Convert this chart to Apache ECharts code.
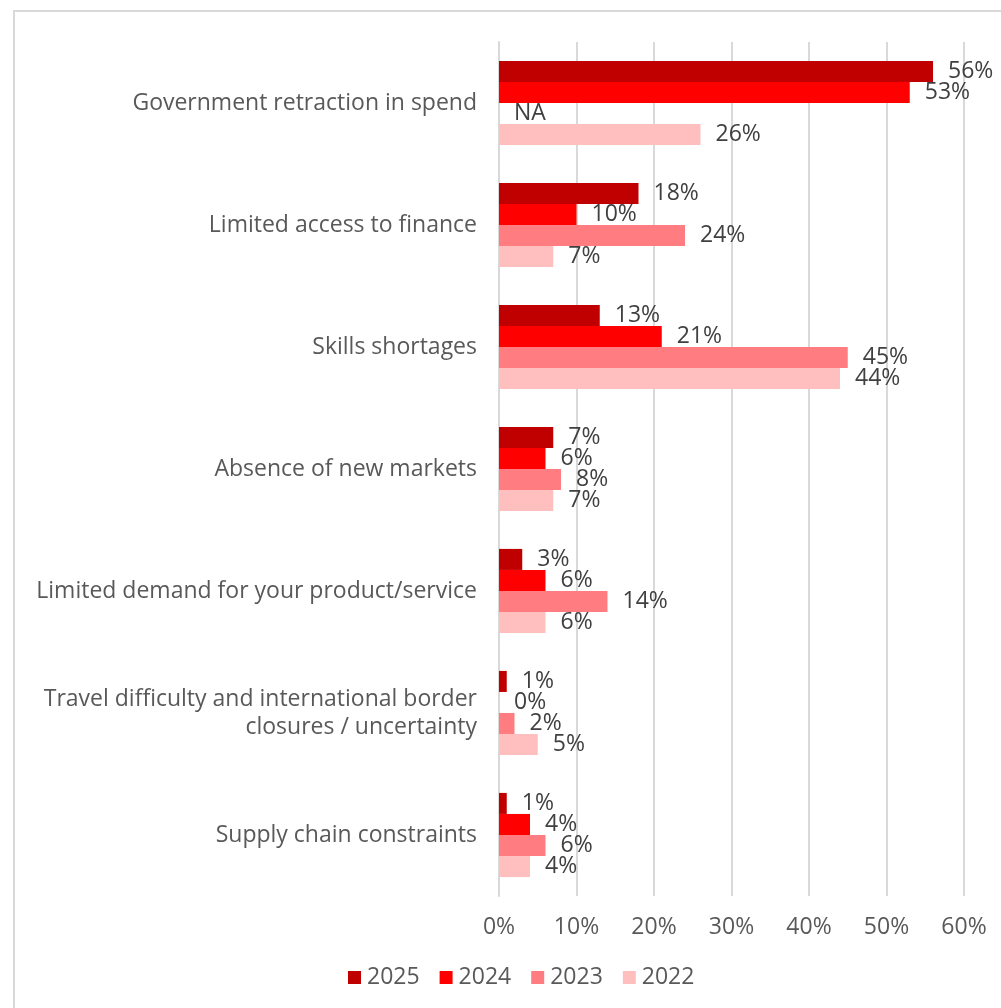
<!DOCTYPE html>
<html>
<head>
<meta charset="utf-8">
<style>
  html, body { margin: 0; padding: 0; background: #ffffff; }
  #chart { width: 1001px; height: 1008px; }
</style>
<script src="https://cdn.jsdelivr.net/npm/echarts@6/dist/echarts.min.js"></script>
</head>
<body>
<div id="chart"></div>
<script>
// Barriers to growth, share of respondents by survey year
const categories = [
  'Government retraction in spend',
  'Limited access to finance',
  'Skills shortages',
  'Absence of new markets',
  'Limited demand for your product/service',
  'Travel difficulty and international border\nclosures / uncertainty',
  'Supply chain constraints'
];
const years = ['2025', '2024', '2023', '2022'];
const values2025 = [56, 18, 13, 7, 3, 1, 1];
const values2024 = [53, 10, 21, 6, 6, 0, 4];
const values2023 = [null, 24, 45, 8, 14, 2, 6];   // null = question not asked (NA)
const values2022 = [26, 7, 44, 7, 6, 5, 4];
const xTicks = [0, 10, 20, 30, 40, 50, 60];

const colors = ['#C00000', '#FF0000', '#FF7C80', '#FFBFBF'];
const fontFamily = '"Open Sans", "Noto Sans", sans-serif';
const fs = 23;

function toData(arr) {
  return arr.map(v => v === null
    ? { value: 0, label: { formatter: 'NA' } }
    : v);
}

const seriesValues = [values2025, values2024, values2023, values2022];

const chart = echarts.init(document.getElementById('chart'), null, { renderer: 'canvas' });
chart.setOption({
  backgroundColor: '#ffffff',
  animation: false,
  textStyle: { fontFamily: fontFamily },
  graphic: [{
    type: 'rect',
    shape: { x: 14, y: 11, width: 1010, height: 1020 },
    style: { fill: 'none', stroke: '#d9d9d9', lineWidth: 2 },
    silent: true
  }],
  grid: { left: 499, right: 37, top: 42, height: 854, containLabel: false },
  legend: {
    data: years,
    top: 966,
    left: 348,
    padding: 0,
    itemWidth: 13,
    itemHeight: 13,
    itemGap: 20,
    icon: 'rect',
    textStyle: { color: '#595959', fontSize: fs, fontFamily: fontFamily, padding: [0, 0, 0, 1] }
  },
  xAxis: {
    type: 'value',
    min: xTicks[0],
    max: xTicks[xTicks.length - 1],
    interval: 10,
    axisLine: { show: false },
    axisTick: { show: false },
    splitLine: { show: true, lineStyle: { color: '#d9d9d9', width: 2 } },
    axisLabel: {
      formatter: v => v + '%',
      color: '#595959',
      fontSize: fs,
      margin: 20,
      fontFamily: fontFamily
    }
  },
  yAxis: {
    type: 'category',
    data: categories,
    inverse: true,
    axisLine: { show: true, lineStyle: { color: '#d9d9d9', width: 2 } },
    axisTick: { show: false },
    axisLabel: {
      color: '#595959',
      fontSize: fs,
      margin: 22,
      lineHeight: 28,
      align: 'right',
      padding: [4, 0, 0, 0],
      fontFamily: fontFamily
    }
  },
  series: years.map((y, i) => ({
    name: y,
    type: 'bar',
    data: toData(seriesValues[i]),
    barGap: '0%',
    barCategoryGap: '31%',
    itemStyle: { color: colors[i] },
    label: {
      show: true,
      position: 'right',
      distance: 15,
      formatter: p => p.value + '%',
      color: '#404040',
      fontSize: fs,
      fontFamily: fontFamily
    }
  }))
});
</script>
</body>
</html>
